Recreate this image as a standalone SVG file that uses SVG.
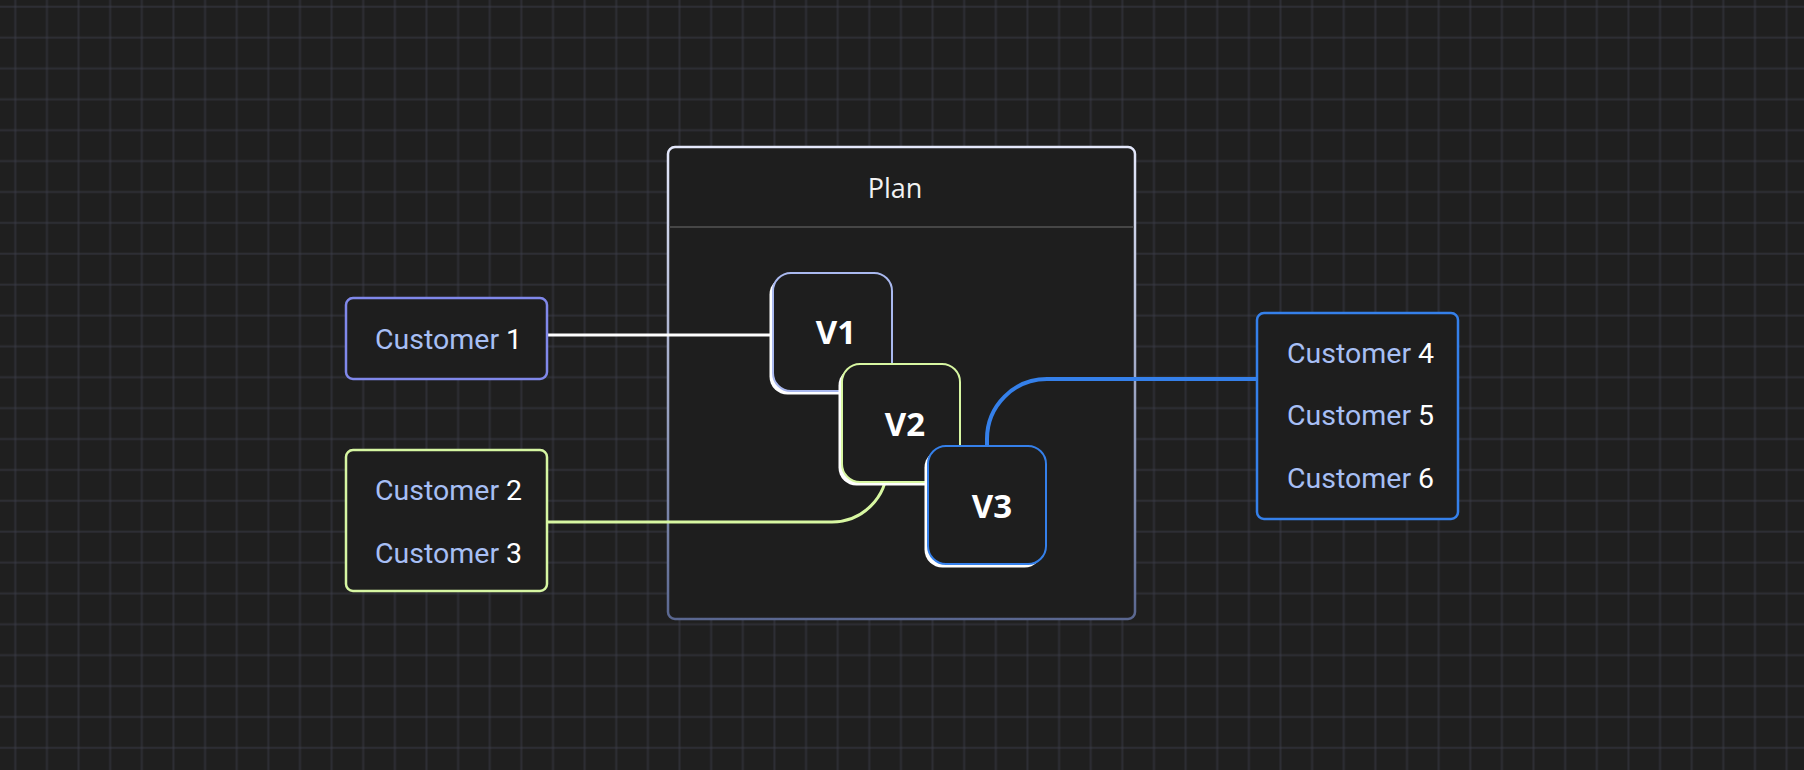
<svg xmlns="http://www.w3.org/2000/svg" width="1804" height="770" viewBox="0 0 1804 770">
  <defs>
    <pattern id="grid" x="0" y="0" width="31.63" height="30.88" patternUnits="userSpaceOnUse">
      <rect x="14.3" y="0" width="2" height="30.88" fill="#3d3f4a" fill-opacity="0.48"/>
      <rect x="0" y="5.7" width="31.63" height="2" fill="#3d3f4a" fill-opacity="0.48"/>
    </pattern>
    <linearGradient id="planStroke" x1="0" y1="0" x2="0" y2="1">
      <stop offset="0" stop-color="#e4e8fb"/>
      <stop offset="1" stop-color="#5a6790"/>
    </linearGradient>
    <style>
      .box { fill: #1e1e1e; stroke-width: 2.5; }
      .cust { font-family: Roboto, "Liberation Sans", sans-serif; font-size: 28.5px; fill: #a7bff4; }
      .num { fill: #ffffff; }
      .plan-title { font-family: "Open Sans", "Noto Sans", sans-serif; font-size: 27px; fill: #f2f2f2; text-anchor: middle; }
      .vshadow { fill: #ffffff; }
      .vbox { fill: #1e1e1e; stroke-width: 2; }
      .vlabel { font-family: "Open Sans", "Noto Sans", sans-serif; font-weight: 700; font-size: 33px; fill: #ffffff; text-anchor: middle; }
      .conn { fill: none; }
    </style>
  </defs>

  <rect width="1804" height="770" fill="#1f1f1f"/>
  <rect width="1804" height="770" fill="url(#grid)"/>

  <g id="plan">
    <rect x="668" y="147" width="467" height="472" rx="7" fill="#1e1e1e" stroke="url(#planStroke)" stroke-width="2.5"/>
    <line x1="669.5" y1="227" x2="1133.5" y2="227" stroke="#464646" stroke-width="2"/>
    <text class="plan-title" x="895" y="198">Plan</text>
  </g>

  <g id="connectors">
    <path class="conn" d="M547,335 H775" stroke="#ffffff" stroke-width="3"/>
    <path class="conn" d="M547,522 H832 A55,55 0 0 0 887,467" stroke="#d8f7a2" stroke-width="3"/>
    <path class="conn" d="M987,448 V439 A60,60 0 0 1 1047,379 H1257" stroke="#3580ea" stroke-width="4"/>
  </g>

  <g id="customer1">
    <rect class="box" x="346" y="298" width="201" height="81" rx="7" stroke="#8088ea"/>
    <text class="cust" x="375" y="349">Customer <tspan class="num">1</tspan></text>
  </g>

  <g id="customer23">
    <rect class="box" x="346" y="450" width="201" height="141" rx="7" stroke="#d6f6a2"/>
    <text class="cust" x="375" y="500">Customer <tspan class="num">2</tspan></text>
    <text class="cust" x="375" y="562.5">Customer <tspan class="num">3</tspan></text>
  </g>

  <g id="customer456">
    <rect class="box" x="1257" y="313" width="201" height="206" rx="7" stroke="#3580ea"/>
    <text class="cust" x="1287" y="362.5">Customer <tspan class="num">4</tspan></text>
    <text class="cust" x="1287" y="425">Customer <tspan class="num">5</tspan></text>
    <text class="cust" x="1287" y="487.5">Customer <tspan class="num">6</tspan></text>
  </g>

  <g id="v1">
    <rect class="vshadow" x="769.5" y="276.5" width="119" height="118" rx="18"/>
    <rect class="vbox" x="773" y="273" width="119" height="118" rx="18" stroke="#aab9ef"/>
    <text class="vlabel" x="836" y="344">V1</text>
  </g>

  <g id="v2">
    <rect class="vshadow" x="838.5" y="367.5" width="118" height="118" rx="18"/>
    <rect class="vbox" x="842" y="364" width="118" height="118" rx="18" stroke="#d8f7a2"/>
    <text class="vlabel" x="905" y="435.5">V2</text>
  </g>

  <g id="v3">
    <rect class="vshadow" x="924.5" y="449.5" width="118" height="118" rx="18"/>
    <rect class="vbox" x="928" y="446" width="118" height="118" rx="18" stroke="#3580ea"/>
    <text class="vlabel" x="992" y="517.5">V3</text>
  </g>
</svg>
